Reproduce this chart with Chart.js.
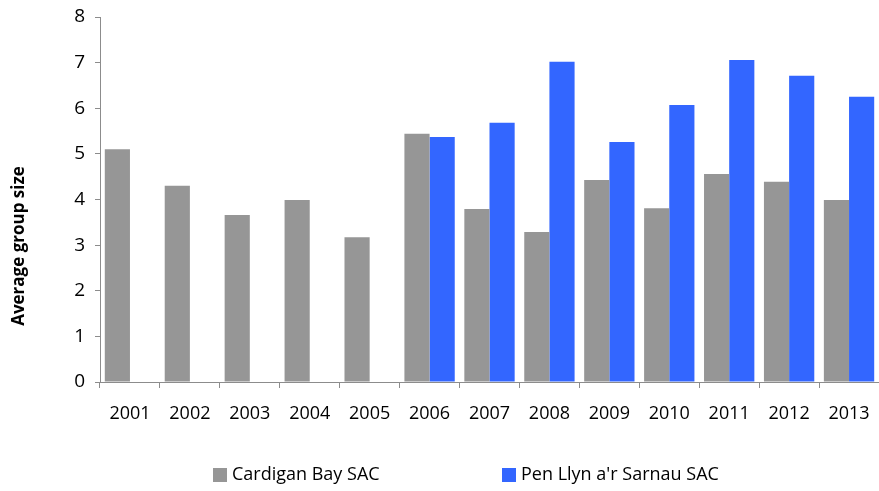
<!DOCTYPE html>
<html>
<head>
<meta charset="utf-8">
<script src="https://cdn.jsdelivr.net/npm/chart.js@4.4.1/dist/chart.umd.min.js"></script>
<style>
  html, body { margin: 0; padding: 0; background: #fff; }
  #wrap { width: 879px; height: 491px; }
</style>
</head>
<body>
<div id="wrap"><canvas id="groupChart" width="879" height="491"></canvas></div>
<script>
// années et tailles moyennes de groupe
const YEARS = ["2001", "2002", "2003", "2004", "2005", "2006", "2007",
               "2008", "2009", "2010", "2011", "2012", "2013"];
const CARDIGAN = [5.10, 4.30, 3.66, 3.99, 3.17, 5.44, 3.79, 3.29, 4.43, 3.81, 4.56, 4.39, 3.99];
const PEN_LLYN = [null, null, null, null, null, 5.37, 5.68, 7.02, 5.26, 6.07, 7.06, 6.71, 6.25];
const Y_TICKS = [0, 1, 2, 3, 4, 5, 6, 7, 8];

const FONT = "'Open Sans', 'DejaVu Sans', sans-serif";
const AXIS_GREY = "#8c8c8c";

// légende + titre de l'axe Y dessinés à la main (positions comme l'original)
const extras = {
    id: "extras",
    afterDraw(chart) {
        const ctx = chart.ctx;
        ctx.save();
        ctx.fillStyle = "#000";
        ctx.font = "bold 17px " + FONT;
        ctx.textAlign = "center";
        ctx.textBaseline = "middle";
        ctx.translate(19, 246);
        ctx.rotate(-Math.PI / 2);
        ctx.fillText("Average group size", 0, 0);
        ctx.restore();

        const spots = [213, 502];
        ctx.save();
        ctx.font = "18px " + FONT;
        ctx.textBaseline = "middle";
        ctx.textAlign = "left";
        chart.data.datasets.forEach((ds, i) => {
            ctx.fillStyle = ds.backgroundColor;
            ctx.fillRect(spots[i], 468, 14, 14);
            ctx.fillStyle = "#000";
            ctx.fillText(ds.label, spots[i] + 19, 475);
        });
        ctx.restore();
    }
};

new Chart(document.getElementById("groupChart"), {
    type: "bar",
    data: {
        labels: YEARS,
        datasets: [
            { label: "Cardigan Bay SAC", data: CARDIGAN, backgroundColor: "#969696" },
            { label: "Pen Llyn a'r Sarnau SAC", data: PEN_LLYN, backgroundColor: "#3366ff" }
        ]
    },
    options: {
        responsive: false,
        animation: false,
        layout: { padding: { top: 17, right: 0, bottom: 60, left: 0 } },
        datasets: { bar: { categoryPercentage: 0.84, barPercentage: 1.0 } },
        plugins: { legend: { display: false }, tooltip: { enabled: false } },
        scales: {
            x: {
                grid: { drawOnChartArea: false, color: AXIS_GREY, tickLength: 6, offset: true },
                border: { color: AXIS_GREY },
                ticks: { color: "#000", font: { family: FONT, size: 18 }, padding: 15, maxRotation: 0 },
                afterFit(scale) {
                    scale.height = 49;
                    scale.paddingLeft = 0;
                    scale.paddingRight = 0;
                }
            },
            y: {
                min: 0,
                max: 8,
                afterBuildTicks(scale) { scale.ticks = Y_TICKS.map(v => ({ value: v })); },
                grid: { drawOnChartArea: false, color: AXIS_GREY, tickLength: 5 },
                border: { color: AXIS_GREY },
                ticks: { color: "#000", font: { family: FONT, size: 19 }, padding: 10 },
                afterFit(scale) {
                    scale.width = 100;
                    scale.paddingTop = 0;
                    scale.paddingBottom = 0;
                }
            }
        }
    },
    plugins: [extras]
});
</script>
</body>
</html>
